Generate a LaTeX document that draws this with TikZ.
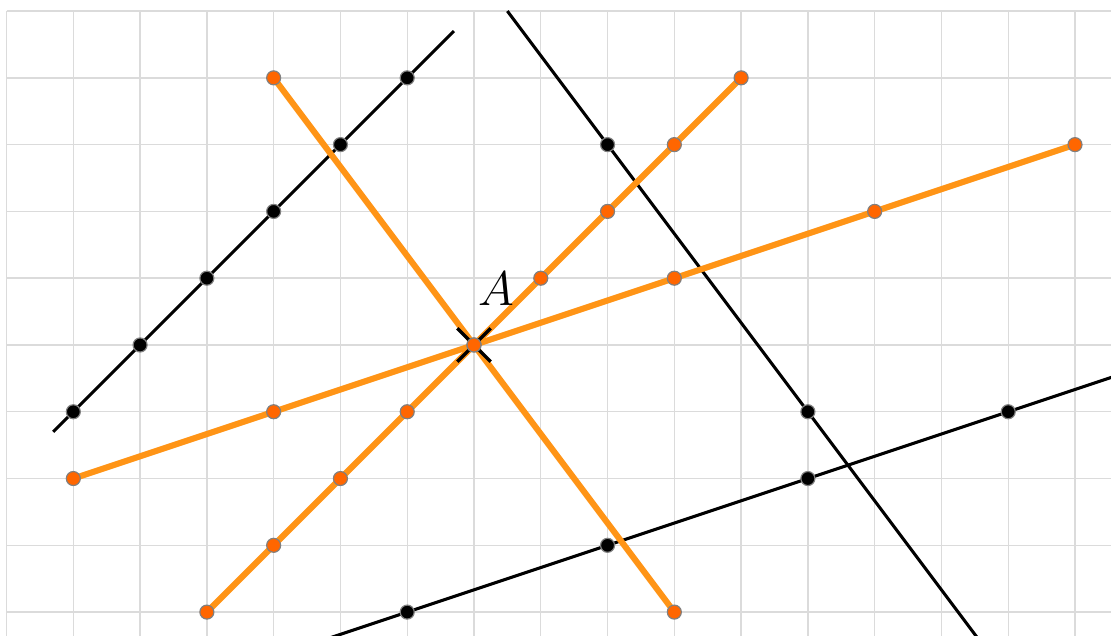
\documentclass[tikz,border=0pt]{standalone}
\usetikzlibrary{positioning}
\definecolor{lineorange}{RGB}{255,148,22}
\definecolor{dotorange}{RGB}{255,102,0}

\begin{document}
\begin{tikzpicture}[
    gridline/.style={gray!28, line width=0.6pt},
    oline/.style={lineorange, line width=2.6pt},
    bline/.style={black, line width=1.3pt},
    odot/.style={circle, fill=dotorange, draw=gray, line width=0.5pt, minimum size=0.21cm, inner sep=0pt},
    bdot/.style={odot, fill=black},
    crossmark/.style={black, line width=1.4pt}
]
    \useasboundingbox (-7.098,-4.358) rectangle (9.539,5.166);

    % --- GRID ---
    \draw[gridline] (-7,-4.358) grid (9.539,5);

    % --- POINTS ---
    \coordinate (A) at (0,0);
    \foreach \k in {-4,...,4} {
        \coordinate (d-\k) at (\k,\k);
    }
    \foreach \k in {-2,...,3} {
        \coordinate (s-\k) at (3*\k,\k);
    }
    \coordinate (t-1) at (-3,4);
    \coordinate (t-2) at (3,-4);
    \foreach \k in {1,...,6} {
        \coordinate (b-\k) at (\k-7,\k-2);
    }
    \coordinate (c-1) at (2,3);
    \coordinate (c-2) at (5,-1);
    \foreach \k in {1,...,4} {
        \coordinate (e-\k) at (3*\k-4,\k-5);
    }

    % --- BLACK LINES ---
    \coordinate (b-start) at (-6.3,-1.3);
    \coordinate (b-end) at (-0.3,4.7);
    \coordinate (c-start) at (0.5,5);
    \coordinate (c-end) at (7.625,-4.5);
    \coordinate (e-start) at (-2.5,-4.5);
    \coordinate (e-end) at (9.8,-0.4);
    \draw[bline] (b-start) -- (b-end);
    \draw[bline] (c-start) -- (c-end);
    \draw[bline] (e-start) -- (e-end);

    % --- ORANGE SEGMENTS ---
    \draw[oline] (t-1) -- (t-2);
    \draw[oline] (d--4) -- (d-4);
    \draw[oline] (s--2) -- (s-3);

    % --- MARK AT A ---
    \coordinate (x-1) at (-0.25,0.25);
    \coordinate (x-2) at (0.25,-0.25);
    \coordinate (x-3) at (-0.25,-0.25);
    \coordinate (x-4) at (0.25,0.25);
    \draw[crossmark] (x-1) -- (x-2);
    \draw[crossmark] (x-3) -- (x-4);
    \node[above right=0.47cm and -0.05cm of A, font=\huge] (A-label) {$A$};

    % --- DOTS ---
    \foreach \k in {1,...,6} {
        \node[bdot] at (b-\k) {};
    }
    \foreach \k in {1,2} {
        \node[bdot] at (c-\k) {};
    }
    \foreach \k in {1,...,4} {
        \node[bdot] at (e-\k) {};
    }
    \foreach \k in {-4,...,4} {
        \node[odot] at (d-\k) {};
    }
    \foreach \k in {-2,...,3} {
        \node[odot] at (s-\k) {};
    }
    \node[odot] at (t-1) {};
    \node[odot] at (t-2) {};

\end{tikzpicture}
\end{document}
